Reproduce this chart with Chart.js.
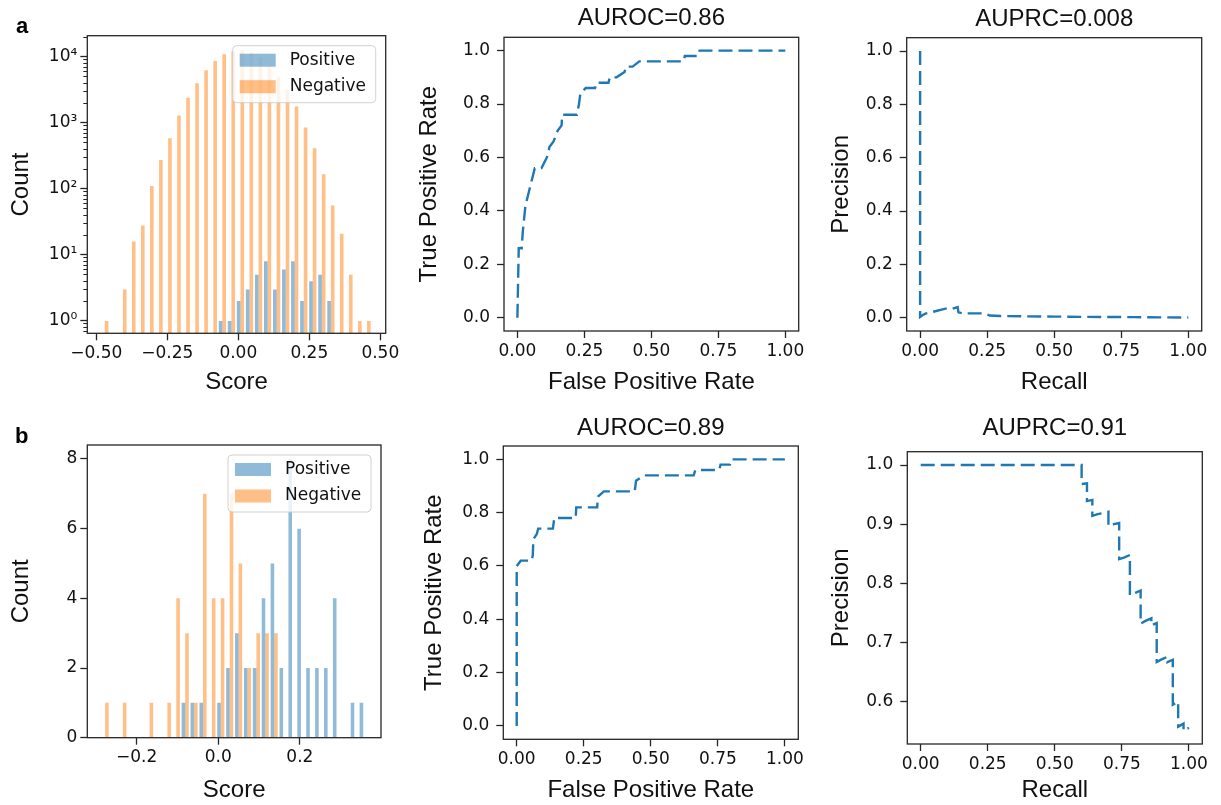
<!DOCTYPE html>
<html>
<head>
<meta charset="utf-8">
<title>Score distributions, ROC and PR curves</title>
<script src="https://cdn.jsdelivr.net/npm/chart.js@4.4.1/dist/chart.umd.min.js"></script>
<style>
  html, body { margin: 0; padding: 0; background: #ffffff; }
  #figure { position: relative; width: 1221px; height: 805px; overflow: hidden; }
  #figure canvas { position: absolute; }
  .panel-tag { position: absolute; font: bold 22px/22px "Liberation Sans", Arial, sans-serif; color: #000; }
</style>
</head>
<body>
<div id="figure">
  <canvas id="histA" width="410" height="400" style="left:0px; top:0px;"></canvas>
  <canvas id="rocA" width="410" height="400" style="left:410px; top:0px;"></canvas>
  <canvas id="prA" width="401" height="400" style="left:820px; top:0px;"></canvas>
  <canvas id="histB" width="410" height="400" style="left:0px; top:405px;"></canvas>
  <canvas id="rocB" width="410" height="400" style="left:410px; top:405px;"></canvas>
  <canvas id="prB" width="401" height="400" style="left:820px; top:405px;"></canvas>
  <div class="panel-tag" style="left:16px; top:15px;">a</div>
  <div class="panel-tag" style="left:15px; top:425px;">b</div>
</div>
<script>
// ---- data: row a ----
const scoreBinsA = [-0.4700, -0.4382, -0.4063, -0.3745, -0.3426, -0.3108, -0.2790, -0.2471, -0.2153, -0.1834,
                    -0.1516, -0.1198, -0.0879, -0.0561, -0.0242, 0.0076, 0.0394, 0.0713, 0.1031, 0.1350,
                    0.1668, 0.1986, 0.2305, 0.2623, 0.2942, 0.3260, 0.3578, 0.3897, 0.4215, 0.4534];
const positiveA = [0, 0, 0, 0, 0, 0, 0, 0, 0, 0, 0, 0, 0, 1, 1, 2, 3, 5, 8, 3, 6, 8, 2, 4, 5, 2, 0, 0, 0, 0];
const negativeA = [1, 0, 3, 16, 28, 111, 275, 585, 1300, 2420, 4000, 6300, 8700, 11000, 12200,
                   12800, 11800, 10000, 7400, 5000, 3160, 1770, 855, 414, 167, 56, 21, 5, 1, 1];

const rocFprA = [0, 0.005, 0.016, 0.02, 0.03, 0.035, 0.045, 0.06, 0.065, 0.09, 0.10, 0.11, 0.12, 0.135, 0.15,
                 0.165, 0.167, 0.222, 0.23, 0.235, 0.255, 0.29, 0.295, 0.34, 0.345, 0.37, 0.40, 0.405, 0.43,
                 0.455, 0.62, 0.625, 0.675, 0.68, 1.0];
const rocTprA = [0, 0.26, 0.26, 0.32, 0.42, 0.44, 0.48, 0.54, 0.56, 0.56, 0.58, 0.60, 0.64, 0.66, 0.70,
                 0.72, 0.76, 0.76, 0.80, 0.84, 0.86, 0.86, 0.88, 0.88, 0.90, 0.90, 0.92, 0.94, 0.94,
                 0.96, 0.96, 0.98, 0.98, 1.0, 1.0];

const prRecallA = [0, 0, 0.01, 0.02, 0.04, 0.06, 0.08, 0.10, 0.12, 0.14, 0.143, 0.16, 0.24, 0.26, 0.30,
                   0.40, 0.50, 0.60, 0.80, 1.0];
const prPrecisionA = [1.0, 0.003, 0.01, 0.015, 0.02, 0.025, 0.03, 0.035, 0.033, 0.04, 0.02, 0.016, 0.016,
                      0.008, 0.006, 0.005, 0.004, 0.003, 0.002, 0.0005];

const aurocA = '0.86';
const auprcA = '0.008';

// ---- data: row b ----
const scoreBinsB = [-0.2771, -0.2553, -0.2335, -0.2117, -0.1899, -0.1681, -0.1463, -0.1245, -0.1027, -0.0809,
                    -0.0591, -0.0373, -0.0155, 0.0063, 0.0281, 0.0499, 0.0717, 0.0935, 0.1153, 0.1371,
                    0.1589, 0.1807, 0.2025, 0.2243, 0.2461, 0.2679, 0.2897, 0.3115, 0.3333, 0.3551];
const positiveB = [0, 0, 0, 0, 0, 0, 0, 0, 0, 1, 1, 1, 0, 1, 2, 3, 2, 2, 4, 5, 2, 8, 6, 2, 2, 2, 4, 0, 1, 1];
const negativeB = [1, 0, 1, 0, 0, 1, 0, 1, 4, 3, 1, 7, 4, 4, 7, 5, 2, 3, 3, 3, 0, 0, 0, 0, 0, 0, 0, 0, 0, 0];

const rocFprB = [0, 0, 0.015, 0.055, 0.06, 0.062, 0.075, 0.08, 0.135, 0.14, 0.22, 0.222, 0.30, 0.303, 0.325,
                 0.44, 0.445, 0.475, 0.66, 0.666, 0.755, 0.76, 0.795, 0.80, 1.0];
const rocTprB = [0, 0.60, 0.62, 0.62, 0.64, 0.70, 0.72, 0.74, 0.74, 0.78, 0.78, 0.82, 0.82, 0.86, 0.88,
                 0.88, 0.92, 0.94, 0.94, 0.96, 0.96, 0.98, 0.98, 1.0, 1.0];

const prRecallB = [0, 0.60, 0.60, 0.62, 0.62, 0.64, 0.64, 0.66, 0.68, 0.70, 0.70, 0.72, 0.74, 0.74, 0.76,
                   0.78, 0.78, 0.80, 0.82, 0.82, 0.84, 0.86, 0.86, 0.88, 0.88, 0.90, 0.92, 0.92, 0.94,
                   0.94, 0.96, 0.96, 0.98, 0.98, 1.0];
const prPrecisionB = [1.0, 1.0, 0.968, 0.969, 0.939, 0.941, 0.914, 0.917, 0.919, 0.921, 0.897, 0.900, 0.902,
                      0.841, 0.844, 0.848, 0.780, 0.784, 0.788, 0.732, 0.737, 0.741, 0.729, 0.733, 0.667,
                      0.672, 0.676, 0.667, 0.671, 0.595, 0.600, 0.558, 0.563, 0.551, 0.556];

const aurocB = '0.89';
const auprcB = '0.91';

// ---- tick values ----
const scoreTicksA = [-0.5, -0.25, 0, 0.25, 0.5];
const countTicksA = [1, 10, 100, 1000, 10000];
const scoreTicksB = [-0.2, 0, 0.2];
const countTicksB = [0, 2, 4, 6, 8];
const rateTicks = [0, 0.25, 0.5, 0.75, 1];
const unitTicks = [0, 0.2, 0.4, 0.6, 0.8, 1];
const precisionTicksB = [0.6, 0.7, 0.8, 0.9, 1.0];

// ---- look ----
const TICK_FONT = { family: '"DejaVu Sans", sans-serif', size: 17 };
const LABEL_FONT = { family: '"Liberation Sans", Arial, sans-serif', size: 24, weight: 'normal' };
const INK = '#111111';
const SPINE = '#262626';
const LINE_BLUE = '#1f77b4';
const BAR_BLUE = 'rgba(31, 119, 180, 0.5)';
const BAR_ORANGE = 'rgba(255, 127, 14, 0.5)';
const SUPER = ['\u2070', '\u00b9', '\u00b2', '\u00b3', '\u2074'];

const signed = (v, d) => v.toFixed(d).replace('-', '\u2212');
const pow10 = v => '10' + SUPER[Math.round(Math.log10(v))];

function logMinorTicks(min, max) {
    const out = [];
    for (let e = -1; e <= 4; e++) {
        for (let m = 2; m <= 9; m++) {
            const v = m * Math.pow(10, e);
            if (v >= min && v <= max) out.push(v);
        }
    }
    return out;
}

function setTicks(values) {
    return scale => { scale.ticks = values.map(value => ({ value })); };
}

function fixSize(size) {
    return scale => {
        if (scale.isHorizontal()) scale.height = size;
        else scale.width = size;
        scale.paddingLeft = scale.paddingRight = scale.paddingTop = scale.paddingBottom = 0;
    };
}

function axis(cfg) {
    const horizontal = cfg.position === 'bottom';
    return {
        type: cfg.type || 'linear',
        axis: horizontal ? 'x' : 'y',
        position: cfg.position,
        weight: cfg.weight || 0,
        offset: false,
        bounds: 'data',
        min: cfg.min,
        max: cfg.max,
        afterBuildTicks: setTicks(cfg.ticks),
        afterFit: fixSize(cfg.size),
        border: { display: false },
        grid: {
            display: true, offset: false, drawOnChartArea: false, drawTicks: true,
            tickLength: cfg.tickLength || 7, tickColor: SPINE, tickWidth: cfg.tickWidth || 1.3
        },
        ticks: {
            display: !!cfg.format, autoSkip: false, maxRotation: 0, minRotation: 0,
            color: INK, font: TICK_FONT, padding: cfg.pad || 0,
            callback: cfg.format || (() => '')
        },
        title: {
            display: !!cfg.title, text: cfg.title || '', color: INK, font: LABEL_FONT,
            padding: horizontal ? { top: 0, bottom: cfg.titlePad } : { top: cfg.titlePad, bottom: 0 }
        }
    };
}

function binAxis(min, max) {
    return {
        type: 'linear', axis: 'x', position: 'bottom', display: false, offset: false, bounds: 'data',
        min, max, afterBuildTicks: s => { s.ticks = []; }
    };
}

// box round the axes, drawn over the data like matplotlib spines
const frame = {
    id: 'frame',
    afterDatasetsDraw(chart) {
        const { ctx, chartArea: a } = chart;
        ctx.save();
        ctx.strokeStyle = SPINE;
        ctx.lineWidth = 1.3;
        ctx.strokeRect(a.left, a.top, a.right - a.left, a.bottom - a.top);
        ctx.restore();
    }
};

// legend inside the upper right corner of the plot area
const boxLegend = {
    id: 'boxLegend',
    afterDraw(chart) {
        const { ctx, chartArea } = chart;
        const w = 143, h = 57, inset = 10;
        const left = chartArea.right - inset - w;
        const top = chartArea.top + inset;
        ctx.save();
        ctx.beginPath();
        ctx.roundRect(left, top, w, h, 4);
        ctx.fillStyle = 'rgba(255, 255, 255, 0.8)';
        ctx.fill();
        ctx.lineWidth = 1;
        ctx.strokeStyle = 'rgba(204, 204, 204, 0.9)';
        ctx.stroke();
        ctx.font = '17px "DejaVu Sans"';
        ctx.textBaseline = 'middle';
        chart.data.datasets.forEach((ds, i) => {
            const y = top + 14.5 + i * 26.5;
            ctx.fillStyle = ds.backgroundColor;
            ctx.fillRect(left + 7, y - 6.5, 36, 13);
            ctx.fillStyle = INK;
            ctx.fillText(ds.label, left + 57, y);
        });
        ctx.restore();
    }
};

function histChart(id, o) {
    const points = counts => counts.map((c, i) => ({ x: o.bins[i], y: c === 0 ? null : c }));
    return new Chart(document.getElementById(id), {
        type: 'bar',
        data: {
            datasets: [
                { label: 'Positive', data: points(o.positive), backgroundColor: BAR_BLUE, xAxisID: 'bins', yAxisID: 'y' },
                { label: 'Negative', data: points(o.negative), backgroundColor: BAR_ORANGE, xAxisID: 'bins', yAxisID: 'y' }
            ]
        },
        options: {
            responsive: false,
            animation: false,
            layout: { padding: o.padding },
            datasets: { bar: { categoryPercentage: 0.8, barPercentage: 1.0, borderWidth: 0, inflateAmount: 0 } },
            scales: o.scales,
            plugins: { legend: { display: false }, tooltip: { enabled: false }, title: { display: false } }
        },
        plugins: [frame, boxLegend]
    });
}

function curveChart(id, o) {
    return new Chart(document.getElementById(id), {
        type: 'line',
        data: {
            datasets: [{
                data: o.xs.map((x, i) => ({ x, y: o.ys[i] })),
                borderColor: LINE_BLUE,
                borderWidth: 2.4,
                borderDash: [14, 6],
                borderCapStyle: 'butt',
                pointRadius: 0,
                tension: 0,
                fill: false
            }]
        },
        options: {
            responsive: false,
            animation: false,
            layout: { padding: o.padding },
            scales: o.scales,
            plugins: {
                legend: { display: false },
                tooltip: { enabled: false },
                title: {
                    display: true, text: o.title, fullSize: false, color: INK,
                    font: LABEL_FONT, padding: o.titlePad
                }
            }
        },
        plugins: [frame]
    });
}

// ---- row a ----
const histAMin = -0.5317, histAMax = 0.5190, countAMin = 0.65, countAMax = 21000;
histChart('histA', {
    bins: scoreBinsA, positive: positiveA, negative: negativeA,
    padding: { left: 0, right: 24.3, top: 35.7, bottom: 0 },
    scales: {
        x: axis({ position: 'bottom', min: histAMin, max: histAMax, ticks: scoreTicksA,
                  format: v => signed(v, 2), size: 66.7, pad: 3, title: 'Score', titlePad: 3.1 }),
        bins: binAxis(histAMin, histAMax),
        y: axis({ type: 'logarithmic', position: 'left', min: countAMin, max: countAMax, ticks: countTicksA,
                  format: pow10, size: 87.3, pad: 3, title: 'Count', titlePad: 6.8 }),
        yMinor: axis({ type: 'logarithmic', position: 'left', weight: -1, min: countAMin, max: countAMax,
                       ticks: logMinorTicks(countAMin, countAMax), size: 0, tickLength: 4, tickWidth: 1 })
    }
});

curveChart('rocA', {
    xs: rocFprA, ys: rocTprA, title: 'AUROC=' + aurocA,
    padding: { left: 0, right: 21.3, top: 0, bottom: 0 },
    titlePad: { top: 4.3, bottom: 4.2 },
    scales: {
        x: axis({ position: 'bottom', min: -0.05, max: 1.05, ticks: rateTicks, format: v => v.toFixed(2),
                  size: 69, pad: 3, title: 'False Positive Rate', titlePad: 3.6 }),
        y: axis({ position: 'left', min: -0.05, max: 1.05, ticks: unitTicks, format: v => v.toFixed(1),
                  size: 94, pad: 7, title: 'True Positive Rate', titlePad: 4.6 })
    }
});

curveChart('prA', {
    xs: prRecallA, ys: prPrecisionA, title: 'AUPRC=' + auprcA,
    padding: { left: 0, right: 19.3, top: 0, bottom: 0 },
    titlePad: { top: 4.6, bottom: 4.3 },
    scales: {
        x: axis({ position: 'bottom', min: -0.05, max: 1.05, ticks: rateTicks, format: v => v.toFixed(2),
                  size: 69, pad: 3, title: 'Recall', titlePad: 3.3 }),
        y: axis({ position: 'left', min: -0.05, max: 1.05, ticks: unitTicks, format: v => v.toFixed(1),
                  size: 86.7, pad: 7, title: 'Precision', titlePad: 6.6 })
    }
});

// ---- row b ----
const histBMin = -0.3207, histBMax = 0.3987;
histChart('histB', {
    bins: scoreBinsB, positive: positiveB, negative: negativeB,
    padding: { left: 0, right: 29, top: 40, bottom: 0 },
    scales: {
        x: axis({ position: 'bottom', min: histBMin, max: histBMax, ticks: scoreTicksB,
                  format: v => signed(v, 1), size: 67.3, pad: 3, title: 'Score', titlePad: 0.6 }),
        bins: binAxis(histBMin, histBMax),
        y: axis({ position: 'left', min: 0, max: 8.4, ticks: countTicksB, format: v => String(v),
                  size: 87.3, pad: 3, title: 'Count', titlePad: 6.6 })
    }
});

curveChart('rocB', {
    xs: rocFprB, ys: rocTprB, title: 'AUROC=' + aurocB,
    padding: { left: 0, right: 21.7, top: 0, bottom: 0 },
    titlePad: { top: 8.6, bottom: 3.6 },
    scales: {
        x: axis({ position: 'bottom', min: -0.05, max: 1.05, ticks: rateTicks, format: v => v.toFixed(2),
                  size: 65.7, pad: 3, title: 'False Positive Rate', titlePad: 0.6 }),
        y: axis({ position: 'left', min: -0.05, max: 1.05, ticks: unitTicks, format: v => v.toFixed(1),
                  size: 93.3, pad: 7, title: 'True Positive Rate', titlePad: 9.6 })
    }
});

curveChart('prB', {
    xs: prRecallB, ys: prPrecisionB, title: 'AUPRC=' + auprcB,
    padding: { left: 0, right: 18.7, top: 0, bottom: 0 },
    titlePad: { top: 8.6, bottom: 9.3 },
    scales: {
        x: axis({ position: 'bottom', min: -0.05, max: 1.05, ticks: rateTicks, format: v => v.toFixed(2),
                  size: 61, pad: 3, title: 'Recall', titlePad: 0.6 }),
        y: axis({ position: 'left', min: 0.5286, max: 1.0225, ticks: precisionTicksB, format: v => v.toFixed(1),
                  size: 87.3, pad: 7, title: 'Precision', titlePad: 6.6 })
    }
});
</script>
</body>
</html>
